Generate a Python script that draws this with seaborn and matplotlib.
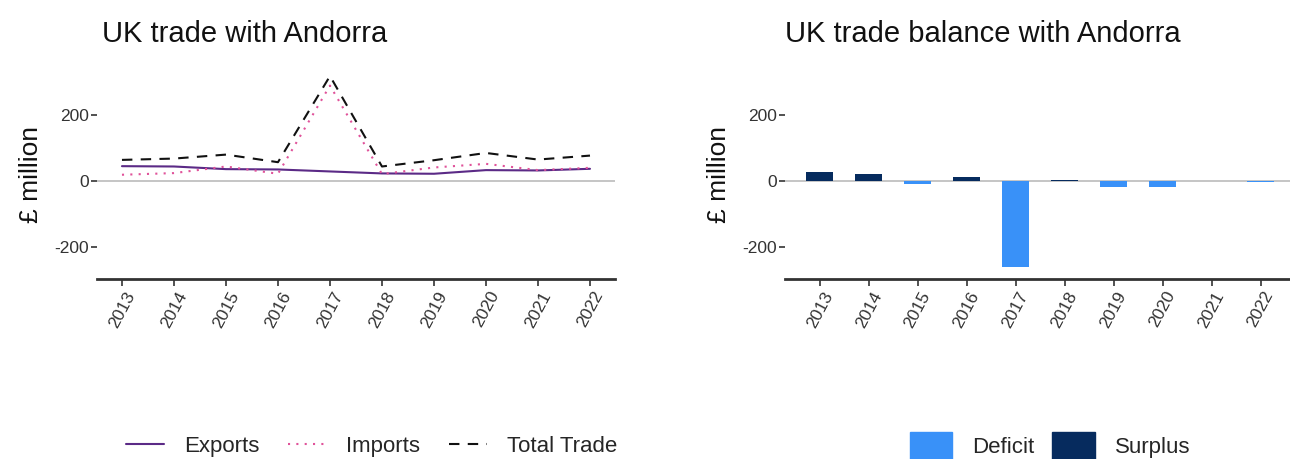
import matplotlib
matplotlib.use("Agg")
import matplotlib.pyplot as plt
import seaborn as sns
import pandas as pd
from matplotlib.patches import Patch
from matplotlib.lines import Line2D

years = [2013, 2014, 2015, 2016, 2017, 2018, 2019, 2020, 2021, 2022]
exports = [45, 44, 36, 35, 29, 23, 22, 33, 32, 37]
imports = [19, 24, 44, 22, 289, 21, 41, 52, 33, 40]
total_trade = [64, 68, 80, 57, 318, 44, 63, 85, 65, 77]
balance = [26, 20, -8, 13, -260, 2, -19, -19, 0, -3]

sns.set_theme(style="white")
plt.rcParams['font.family'] = ['Liberation Sans', 'DejaVu Sans']

fig = plt.figure(figsize=(12.9, 4.59), dpi=100)
ax1 = fig.add_axes([0.0752, 0.392, 0.4015, 0.4553])
ax2 = fig.add_axes([0.6085, 0.392, 0.3915, 0.4553])

long = pd.DataFrame({
    "Year": years * 3,
    "Value": exports + imports + total_trade,
    "Series": ["Exports"] * 10 + ["Imports"] * 10 + ["Total Trade"] * 10,
})
pal = {"Exports": "#5b2a86", "Imports": "#e0529a", "Total Trade": "#111111"}
dashes = {"Exports": "", "Imports": (1, 3), "Total Trade": (5, 4)}
sns.lineplot(data=long, x="Year", y="Value", hue="Series", style="Series",
             palette=pal, dashes=dashes, linewidth=1.5, ax=ax1, legend=False)

bal_df = pd.DataFrame({"Year": [str(y) for y in years], "Balance": balance,
                       "Type": ["Surplus" if b > 0 else "Deficit" for b in balance]})
bpal = {"Deficit": "#3991f8", "Surplus": "#062b5e"}
sns.barplot(data=bal_df, x="Year", y="Balance", hue="Type", palette=bpal,
            dodge=False, width=0.55, saturation=1, linewidth=0, ax=ax2, legend=False)

for ax in (ax1, ax2):
    ax.axhline(0, color="#bbbbbb", lw=1.2, zorder=0.5)
    ax.set_ylim(-297, 336)
    ax.set_yticks([-200, 0, 200])
    ax.set_yticklabels(["-200", "0", "200"])
    for s in ["top", "right", "left"]:
        ax.spines[s].set_visible(False)
    ax.spines["bottom"].set_color("#333333")
    ax.spines["bottom"].set_linewidth(2)
    ax.tick_params(axis="y", which="both", left=True, length=4, width=1.2,
                   color="#333333", labelsize=12.5, labelcolor="#333333", pad=2)
    ax.tick_params(axis="x", which="both", bottom=True, length=5, width=1.2,
                   color="#333333", labelsize=12.5, labelcolor="#333333", pad=2)
    ax.set_ylabel("£ million", fontsize=19, color="#111111", labelpad=8)
    ax.set_xlabel("")
    ax.grid(False)

ax1.set_xlim(2012.52, 2022.48)
ax1.set_xticks(years)
ax1.set_xticklabels([str(y) for y in years], rotation=62, ha="center", va="top")
ax2.set_xlim(-0.71, 9.6)
ax2.set_xticks(range(10))
ax2.set_xticklabels([str(y) for y in years], rotation=62, ha="center", va="top")

ax1.set_title("UK trade with Andorra", loc="left", fontsize=21, pad=20, color="#111111", x=0.01)
ax2.set_title("UK trade balance with Andorra", loc="left", fontsize=21, pad=20, color="#111111")

h1 = [Line2D([], [], color=pal["Exports"], lw=1.5),
      Line2D([], [], color=pal["Imports"], lw=1.5, ls=(0, (1, 3))),
      Line2D([], [], color=pal["Total Trade"], lw=1.5, ls=(0, (5, 4)))]
fig.legend(h1, ["Exports", "Imports", "Total Trade"], loc="center",
           bbox_to_anchor=(0.288, 0.028), ncol=3, frameon=False, fontsize=16,
           handlelength=1.7, columnspacing=1.3, handletextpad=0.9)
h2 = [Patch(color=bpal["Deficit"]), Patch(color=bpal["Surplus"])]
fig.legend(h2, ["Deficit", "Surplus"], loc="center",
           bbox_to_anchor=(0.814, 0.03), ncol=2, frameon=False, fontsize=16,
           handlelength=1.9, handleheight=1.5, columnspacing=0.8, handletextpad=0.9)

fig.savefig("out.png", dpi=100)
